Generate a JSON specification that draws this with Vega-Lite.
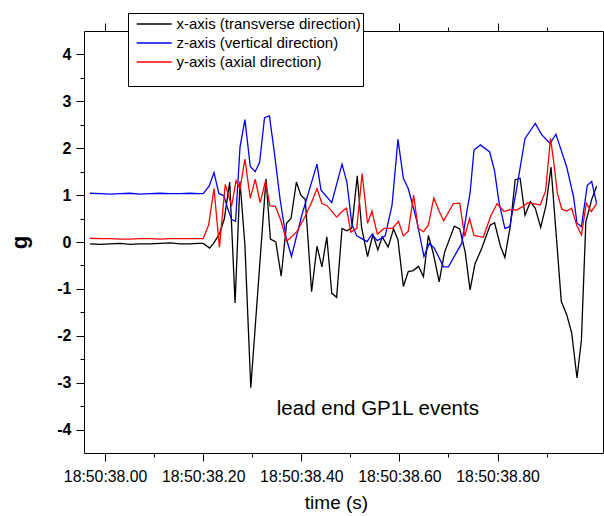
{
  "$schema": "https://vega.github.io/schema/vega-lite/v6.json",
  "width": 519,
  "height": 422,
  "autosize": {"type": "none"},
  "padding": {"left": 84, "top": 31, "right": 1, "bottom": 63},
  "background": "white",
  "config": {
    "view": {"stroke": null},
    "font": "Liberation Sans",
    "axis": {"domainColor": "black", "tickColor": "black", "labelColor": "black", "titleColor": "black", "grid": false, "labelFont": "Liberation Sans", "titleFont": "Liberation Sans", "labelOverlap": false, "labelFlush": false}
  },
  "data": {"values": [
    {"s":"x","t":37.969,"g":-0.04},{"s":"x","t":37.990,"g":-0.05},{"s":"x","t":38.010,"g":-0.04},{"s":"x","t":38.031,"g":-0.03},{"s":"x","t":38.051,"g":-0.05},{"s":"x","t":38.071,"g":-0.04},{"s":"x","t":38.092,"g":-0.04},{"s":"x","t":38.112,"g":-0.03},{"s":"x","t":38.133,"g":-0.02},{"s":"x","t":38.153,"g":-0.04},{"s":"x","t":38.173,"g":-0.04},{"s":"x","t":38.190,"g":-0.03},{"s":"x","t":38.200,"g":-0.03},
    {"s":"x","t":38.213,"g":-0.13},{"s":"x","t":38.221,"g":-0.03},{"s":"x","t":38.233,"g":0.17},{"s":"x","t":38.243,"g":0.49},{"s":"x","t":38.254,"g":1.28},{"s":"x","t":38.265,"g":-1.30},{"s":"x","t":38.275,"g":1.29},{"s":"x","t":38.285,"g":-0.06},{"s":"x","t":38.297,"g":-3.11},{"s":"x","t":38.328,"g":1.35},{"s":"x","t":38.337,"g":0.06},{"s":"x","t":38.348,"g":0.00},{"s":"x","t":38.359,"g":-0.73},{"s":"x","t":38.370,"g":0.40},{"s":"x","t":38.379,"g":0.50},{"s":"x","t":38.390,"g":1.28},{"s":"x","t":38.399,"g":1.00},{"s":"x","t":38.408,"g":0.91},{"s":"x","t":38.421,"g":-1.06},{"s":"x","t":38.432,"g":-0.09},{"s":"x","t":38.442,"g":-0.53},{"s":"x","t":38.452,"g":0.11},{"s":"x","t":38.462,"g":-1.09},{"s":"x","t":38.472,"g":-1.18},{"s":"x","t":38.483,"g":0.29},{"s":"x","t":38.493,"g":0.24},{"s":"x","t":38.503,"g":0.30},{"s":"x","t":38.514,"g":1.41},{"s":"x","t":38.523,"g":0.30},{"s":"x","t":38.535,"g":-0.31},{"s":"x","t":38.546,"g":0.16},{"s":"x","t":38.556,"g":-0.17},{"s":"x","t":38.565,"g":0.11},{"s":"x","t":38.577,"g":-0.11},{"s":"x","t":38.588,"g":0.28},{"s":"x","t":38.597,"g":0.05},{"s":"x","t":38.608,"g":-0.95},{"s":"x","t":38.618,"g":-0.63},{"s":"x","t":38.628,"g":-0.61},{"s":"x","t":38.639,"g":-0.52},{"s":"x","t":38.649,"g":-0.74},{"s":"x","t":38.659,"g":0.14},{"s":"x","t":38.669,"g":-0.24},{"s":"x","t":38.681,"g":-0.85},{"s":"x","t":38.692,"g":-0.22},{"s":"x","t":38.712,"g":0.34},{"s":"x","t":38.723,"g":0.28},{"s":"x","t":38.734,"g":-0.21},{"s":"x","t":38.744,"g":-1.02},{"s":"x","t":38.754,"g":-0.47},{"s":"x","t":38.768,"g":-0.13},{"s":"x","t":38.785,"g":0.36},{"s":"x","t":38.794,"g":0.41},{"s":"x","t":38.806,"g":-0.09},{"s":"x","t":38.815,"g":-0.33},{"s":"x","t":38.826,"g":0.34},{"s":"x","t":38.836,"g":1.33},{"s":"x","t":38.846,"g":1.36},{"s":"x","t":38.856,"g":0.57},{"s":"x","t":38.867,"g":0.86},{"s":"x","t":38.877,"g":0.72},{"s":"x","t":38.888,"g":0.31},{"s":"x","t":38.899,"g":0.79},{"s":"x","t":38.909,"g":1.60},{"s":"x","t":38.930,"g":-1.27},{"s":"x","t":38.941,"g":-1.55},{"s":"x","t":38.951,"g":-1.93},{"s":"x","t":38.962,"g":-2.90},{"s":"x","t":38.971,"g":-2.09},{"s":"x","t":38.980,"g":0.43},{"s":"x","t":38.992,"g":0.91},{"s":"x","t":39.002,"g":1.19},
    {"s":"z","t":37.969,"g":1.04},{"s":"z","t":37.990,"g":1.03},{"s":"z","t":38.010,"g":1.02},{"s":"z","t":38.031,"g":1.03},{"s":"z","t":38.051,"g":1.04},{"s":"z","t":38.071,"g":1.02},{"s":"z","t":38.092,"g":1.03},{"s":"z","t":38.112,"g":1.04},{"s":"z","t":38.133,"g":1.03},{"s":"z","t":38.153,"g":1.03},{"s":"z","t":38.173,"g":1.04},{"s":"z","t":38.190,"g":1.03},{"s":"z","t":38.200,"g":1.03},
    {"s":"z","t":38.212,"g":1.19},{"s":"z","t":38.222,"g":1.48},{"s":"z","t":38.232,"g":1.03},{"s":"z","t":38.242,"g":0.99},{"s":"z","t":38.251,"g":0.68},{"s":"z","t":38.258,"g":0.48},{"s":"z","t":38.266,"g":0.44},{"s":"z","t":38.275,"g":2.02},{"s":"z","t":38.285,"g":2.61},{"s":"z","t":38.296,"g":1.61},{"s":"z","t":38.306,"g":1.50},{"s":"z","t":38.315,"g":1.70},{"s":"z","t":38.325,"g":2.65},{"s":"z","t":38.335,"g":2.69},{"s":"z","t":38.345,"g":1.91},{"s":"z","t":38.357,"g":0.89},{"s":"z","t":38.369,"g":0.09},{"s":"z","t":38.380,"g":-0.31},{"s":"z","t":38.401,"g":0.57},{"s":"z","t":38.418,"g":1.17},{"s":"z","t":38.432,"g":1.66},{"s":"z","t":38.440,"g":1.11},{"s":"z","t":38.462,"g":0.84},{"s":"z","t":38.483,"g":1.66},{"s":"z","t":38.493,"g":1.27},{"s":"z","t":38.503,"g":0.38},{"s":"z","t":38.513,"g":0.13},{"s":"z","t":38.534,"g":0.01},{"s":"z","t":38.544,"g":0.16},{"s":"z","t":38.555,"g":0.03},{"s":"z","t":38.571,"g":0.13},{"s":"z","t":38.585,"g":0.79},{"s":"z","t":38.597,"g":2.19},{"s":"z","t":38.608,"g":1.36},{"s":"z","t":38.618,"g":1.14},{"s":"z","t":38.635,"g":0.47},{"s":"z","t":38.650,"g":-0.31},{"s":"z","t":38.661,"g":-0.03},{"s":"z","t":38.671,"g":-0.13},{"s":"z","t":38.690,"g":-0.53},{"s":"z","t":38.700,"g":-0.53},{"s":"z","t":38.717,"g":-0.21},{"s":"z","t":38.727,"g":-0.03},{"s":"z","t":38.737,"g":0.62},{"s":"z","t":38.744,"g":1.04},{"s":"z","t":38.752,"g":1.96},{"s":"z","t":38.765,"g":2.07},{"s":"z","t":38.784,"g":1.92},{"s":"z","t":38.794,"g":1.51},{"s":"z","t":38.803,"g":0.85},{"s":"z","t":38.815,"g":0.29},{"s":"z","t":38.825,"g":0.33},{"s":"z","t":38.839,"g":1.14},{"s":"z","t":38.856,"g":2.21},{"s":"z","t":38.877,"g":2.53},{"s":"z","t":38.890,"g":2.29},{"s":"z","t":38.907,"g":2.10},{"s":"z","t":38.919,"g":2.30},{"s":"z","t":38.941,"g":1.60},{"s":"z","t":38.955,"g":0.96},{"s":"z","t":38.962,"g":0.40},{"s":"z","t":38.971,"g":0.33},{"s":"z","t":38.983,"g":1.21},{"s":"z","t":38.992,"g":1.29},{"s":"z","t":39.002,"g":0.82},
    {"s":"y","t":37.969,"g":0.08},{"s":"y","t":37.990,"g":0.07},{"s":"y","t":38.010,"g":0.07},{"s":"y","t":38.031,"g":0.06},{"s":"y","t":38.051,"g":0.06},{"s":"y","t":38.071,"g":0.07},{"s":"y","t":38.092,"g":0.07},{"s":"y","t":38.112,"g":0.06},{"s":"y","t":38.133,"g":0.07},{"s":"y","t":38.153,"g":0.07},{"s":"y","t":38.173,"g":0.07},{"s":"y","t":38.190,"g":0.07},{"s":"y","t":38.200,"g":0.07},
    {"s":"y","t":38.211,"g":0.36},{"s":"y","t":38.222,"g":1.14},{"s":"y","t":38.233,"g":-0.11},{"s":"y","t":38.245,"g":1.23},{"s":"y","t":38.258,"g":0.77},{"s":"y","t":38.267,"g":1.31},{"s":"y","t":38.275,"g":1.13},{"s":"y","t":38.285,"g":1.77},{"s":"y","t":38.296,"g":0.93},{"s":"y","t":38.306,"g":1.34},{"s":"y","t":38.316,"g":0.84},{"s":"y","t":38.327,"g":1.30},{"s":"y","t":38.336,"g":0.77},{"s":"y","t":38.347,"g":0.76},{"s":"y","t":38.358,"g":0.47},{"s":"y","t":38.370,"g":0.02},{"s":"y","t":38.377,"g":0.08},{"s":"y","t":38.391,"g":0.22},{"s":"y","t":38.408,"g":0.55},{"s":"y","t":38.421,"g":0.85},{"s":"y","t":38.432,"g":1.14},{"s":"y","t":38.442,"g":0.82},{"s":"y","t":38.452,"g":0.78},{"s":"y","t":38.472,"g":0.53},{"s":"y","t":38.483,"g":0.65},{"s":"y","t":38.492,"g":0.72},{"s":"y","t":38.501,"g":0.21},{"s":"y","t":38.513,"g":0.29},{"s":"y","t":38.524,"g":1.46},{"s":"y","t":38.535,"g":0.40},{"s":"y","t":38.544,"g":0.66},{"s":"y","t":38.555,"g":0.17},{"s":"y","t":38.569,"g":0.29},{"s":"y","t":38.586,"g":0.29},{"s":"y","t":38.598,"g":0.44},{"s":"y","t":38.608,"g":0.13},{"s":"y","t":38.618,"g":0.23},{"s":"y","t":38.629,"g":1.00},{"s":"y","t":38.638,"g":0.29},{"s":"y","t":38.649,"g":0.22},{"s":"y","t":38.659,"g":0.36},{"s":"y","t":38.670,"g":0.94},{"s":"y","t":38.680,"g":0.68},{"s":"y","t":38.690,"g":0.45},{"s":"y","t":38.710,"g":0.82},{"s":"y","t":38.723,"g":0.83},{"s":"y","t":38.733,"g":0.12},{"s":"y","t":38.743,"g":0.50},{"s":"y","t":38.752,"g":0.14},{"s":"y","t":38.771,"g":0.10},{"s":"y","t":38.786,"g":0.55},{"s":"y","t":38.799,"g":0.82},{"s":"y","t":38.813,"g":0.65},{"s":"y","t":38.826,"g":0.69},{"s":"y","t":38.839,"g":0.68},{"s":"y","t":38.850,"g":0.75},{"s":"y","t":38.862,"g":0.84},{"s":"y","t":38.887,"g":0.79},{"s":"y","t":38.898,"g":1.09},{"s":"y","t":38.908,"g":2.21},{"s":"y","t":38.914,"g":1.75},{"s":"y","t":38.922,"g":1.04},{"s":"y","t":38.931,"g":0.70},{"s":"y","t":38.941,"g":0.66},{"s":"y","t":38.951,"g":0.72},{"s":"y","t":38.962,"g":0.34},{"s":"y","t":38.971,"g":0.15},{"s":"y","t":38.981,"g":0.83},{"s":"y","t":38.991,"g":0.65},{"s":"y","t":39.002,"g":0.82}
  ]},
  "layer": [
    {
      "mark": {"type": "line", "strokeWidth": 1.3},
      "encoding": {
        "x": {"field": "t", "type": "quantitative",
          "scale": {"domain": [37.957, 39.015], "nice": false, "zero": false},
          "axis": {"orient": "bottom", "values": [38.0,38.1,38.2,38.3,38.4,38.5,38.6,38.7,38.8,38.9],
            "labelExpr": "round(datum.value*10) % 2 == 0 ? '18:50:' + format(datum.value, '.2f') : ''",
            "tickSize": {"condition": {"test": "round(datum.value*10) % 2 == 0", "value": 8}, "value": 4},
            "labelFontSize": 15.8, "labelPadding": 8, "title": "time (s)", "titleFontSize": 19, "titleFontWeight": "normal", "titlePadding": 10, "titleX": 252}},
        "y": {"field": "g", "type": "quantitative",
          "scale": {"domain": [-4.5, 4.5], "nice": false, "zero": false},
          "axis": {"orient": "left", "values": [-4,-3.5,-3,-2.5,-2,-1.5,-1,-0.5,0,0.5,1,1.5,2,2.5,3,3.5,4],
            "labelExpr": "datum.value % 1 == 0 ? '' + datum.value : ''",
            "tickSize": {"condition": {"test": "datum.value % 1 == 0", "value": 8}, "value": 4},
            "labelFontSize": 16, "labelFontWeight": "bold", "labelPadding": 5, "title": "g", "titleFontSize": 22, "titleFontWeight": "bold", "titlePadding": 25}},
        "color": {"field": "s", "type": "nominal",
          "scale": {"domain": ["x", "z", "y"], "range": ["#000000", "#0000ff", "#ff0000"]},
          "legend": {"orient": "none", "legendX": 44, "legendY": -18, "title": " ", "titleOrient": "bottom", "titleFontSize": 10, "titlePadding": 4,
            "strokeColor": "black", "fillColor": "white", "padding": 1.5,
            "symbolType": "M-2,0H2", "symbolSize": 306.25, "symbolStrokeWidth": 1.4, "symbolOffset": 15.25,
            "labelFontSize": 15, "labelOffset": 12.75, "labelLimit": 300, "rowPadding": 1, "labelColor": "black", "labelFont": "Liberation Sans",
            "labelExpr": "datum.label == 'x' ? 'x-axis (transverse direction)' : datum.label == 'z' ? 'z-axis (vertical direction)' : 'y-axis (axial direction)'"}}
      }
    },
    {
      "mark": {"type": "point", "opacity": 0},
      "encoding": {
        "x": {"field": "t", "type": "quantitative",
          "axis": {"orient": "top", "values": [38.0,38.1,38.2,38.3,38.4,38.5,38.6,38.7,38.8,38.9], "labels": false, "title": null,
            "tickSize": {"condition": {"test": "round(datum.value*10) % 2 == 0", "value": 8}, "value": 4}}},
        "y": {"field": "g", "type": "quantitative",
          "axis": {"orient": "right", "values": [-4,-3.5,-3,-2.5,-2,-1.5,-1,-0.5,0,0.5,1,1.5,2,2.5,3,3.5,4], "labels": false, "title": null,
            "tickSize": {"condition": {"test": "datum.value % 1 == 0", "value": 8}, "value": 4}}}
      }
    },
    {
      "data": {"values": [{"t": 38.556, "g": -3.57, "label": "lead end GP1L events"}]},
      "mark": {"type": "text", "fontSize": 20.5, "font": "Liberation Sans", "color": "black", "align": "center", "baseline": "middle"},
      "encoding": {
        "x": {"field": "t", "type": "quantitative", "axis": null},
        "y": {"field": "g", "type": "quantitative", "axis": null},
        "text": {"field": "label"}
      }
    }
  ],
  "resolve": {"axis": {"x": "independent", "y": "independent"}}
}
